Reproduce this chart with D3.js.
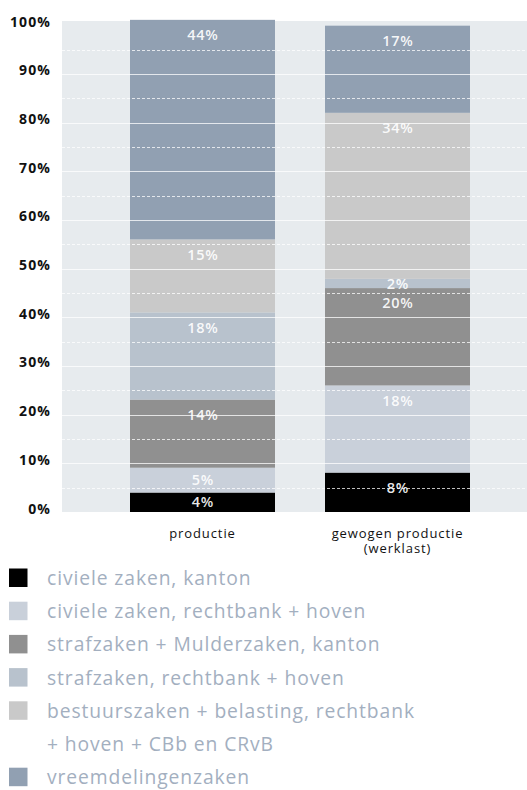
<!DOCTYPE html>
<html>
<head>
<meta charset="utf-8">
<script src="https://cdn.jsdelivr.net/npm/d3@7"></script>
<style>
  html, body { margin: 0; padding: 0; background: #ffffff; }
  svg { display: block; font-family: "Open Sans", Lato, sans-serif; }
</style>
</head>
<body>
<svg id="chart" width="527" height="790"></svg>
<script>
// ---- data ----
const categories = ["productie", "gewogen productie\n(werklast)"];
const seriesNames = [
  "civiele zaken, kanton",
  "civiele zaken, rechtbank + hoven",
  "strafzaken + Mulderzaken, kanton",
  "strafzaken, rechtbank + hoven",
  "bestuurszaken + belasting, rechtbank\n+ hoven + CBb en CRvB",
  "vreemdelingenzaken"
];
const seriesColors = ["#000000", "#c9d0da", "#909090", "#b8c2cd", "#c9c9c9", "#91a0b2"];
// segment sizes (percent), per series: [productie, gewogen]
const civKanton   = [4, 8.1];
const civRb       = [5.1, 17.9];
const strafKanton = [14, 20];
const strafRb     = [17.9, 1.9];
const bestuur     = [15, 34.1];
const vreemd      = [45.1, 17.9];
// printed labels
const labelsProductie = ["4%", "5%", "14%", "18%", "15%", "44%"];
const labelsGewogen   = ["8%", "18%", "20%", "2%", "34%", "17%"];
const yTicks = [0, 10, 20, 30, 40, 50, 60, 70, 80, 90, 100];
const yDashed = [5, 15, 25, 35, 45, 55, 65, 75, 85, 95];

const seriesValues = [civKanton, civRb, strafKanton, strafRb, bestuur, vreemd];
const labelSets = [labelsProductie, labelsGewogen];

const rows = categories.map((c, i) => {
  const r = { cat: c };
  seriesNames.forEach((s, j) => { r[s] = seriesValues[j][i]; });
  return r;
});

const svg = d3.select("#chart");
const plotLeft = 62, plotRight = 527, plotTop = 21, plotBottom = 512;

const y = d3.scaleLinear().domain([0, 100]).range([512, 25.2]);
const x = d3.scaleBand().domain(categories).range([105, 495])
  .paddingInner(50 / 195).paddingOuter(25 / 195);

// background
svg.append("rect")
  .attr("x", plotLeft).attr("y", plotTop)
  .attr("width", plotRight - plotLeft).attr("height", plotBottom - plotTop)
  .attr("fill", "#e7ebee");

const stack = d3.stack().keys(seriesNames)(rows);

// bars
const layers = svg.append("g").selectAll("g").data(stack).join("g")
  .attr("fill", (d, i) => seriesColors[i]);
layers.selectAll("rect").data(d => d).join("rect")
  .attr("x", d => x(d.data.cat))
  .attr("width", x.bandwidth())
  .attr("y", d => y(d[1]))
  .attr("height", d => y(d[0]) - y(d[1]));

// gridlines over bars
const grid = svg.append("g");
grid.selectAll("line.solid").data(yTicks.filter(t => t > 0 && t < 100)).join("line")
  .attr("class", "solid")
  .attr("x1", plotLeft).attr("x2", plotRight)
  .attr("y1", d => Math.round(y(d)) + 0.5).attr("y2", d => Math.round(y(d)) + 0.5)
  .attr("stroke", "#ffffff").attr("stroke-opacity", 0.75).attr("stroke-width", 1);
grid.selectAll("line.dash").data(yDashed).join("line")
  .attr("class", "dash")
  .attr("x1", plotLeft).attr("x2", plotRight)
  .attr("y1", d => Math.round(y(d)) + 0.5).attr("y2", d => Math.round(y(d)) + 0.5)
  .attr("stroke", "#ffffff").attr("stroke-opacity", 0.75).attr("stroke-width", 1)
  .attr("stroke-dasharray", "3,2");

// value labels
const lab = svg.append("g");
stack.forEach((layer, si) => {
  layer.forEach((d, ci) => {
    const top = y(d[1]), bottom = y(d[0]);
    const cy = Math.min(top + 15, (top + bottom) / 2);
    lab.append("text")
      .attr("x", x(d.data.cat) + x.bandwidth() / 2 + 0.3)
      .attr("y", cy)
      .attr("dy", "0.36em")
      .attr("text-anchor", "middle")
      .attr("font-size", 14.5)
      .attr("font-weight", 600)
      .attr("letter-spacing", 0.6)
      .attr("fill", "#ffffff")
      .attr("fill-opacity", 0.92)
      .text(labelSets[ci][si]);
  });
});

// y axis
const yAxis = svg.append("g").attr("transform", "translate(51,0)")
  .call(d3.axisLeft(y).tickValues(yTicks).tickSize(0).tickPadding(0)
    .tickFormat(d => d + "%"));
yAxis.select(".domain").remove();
yAxis.selectAll("text")
  .attr("x", 0).attr("dy", "1px")
  .attr("font-family", "'Open Sans', sans-serif")
  .attr("font-size", 14).attr("font-weight", 700).attr("fill", "#111111")
  .attr("letter-spacing", 1.1)
  .attr("dominant-baseline", "alphabetic");

// x axis
const xAxis = svg.append("g").attr("transform", "translate(0,512)")
  .call(d3.axisBottom(x).tickSize(0).tickPadding(0));
xAxis.select(".domain").remove();
xAxis.selectAll("text").each(function(d) {
  const t = d3.select(this);
  t.text(null).attr("y", 25.5).attr("dy", null)
    .attr("font-family", "'Open Sans', sans-serif")
    .attr("font-size", 13).attr("letter-spacing", 0.9).attr("fill", "#111111");
  d.split("\n").forEach((line, i) => {
    t.append("tspan").attr("x", 0).attr("dy", i === 0 ? 0 : 15).text(line);
  });
});

// legend
const legend = svg.append("g");
let row = 0;
const rowH = 33.2, base0 = 585;
seriesNames.forEach((name, i) => {
  const by = base0 + row * rowH;
  legend.append("rect")
    .attr("x", 9).attr("y", by - 16.5).attr("width", 18.5).attr("height", 18.5)
    .attr("fill", seriesColors[i]);
  const lines = name.split("\n");
  lines.forEach((ln, k) => {
    legend.append("text")
      .attr("x", 47).attr("y", base0 + (row + k) * rowH)
      .attr("font-size", 19.3).attr("letter-spacing", 0.9).attr("fill", "#a3afbf")
      .text(ln);
  });
  row += lines.length;
});
</script>
</body>
</html>
